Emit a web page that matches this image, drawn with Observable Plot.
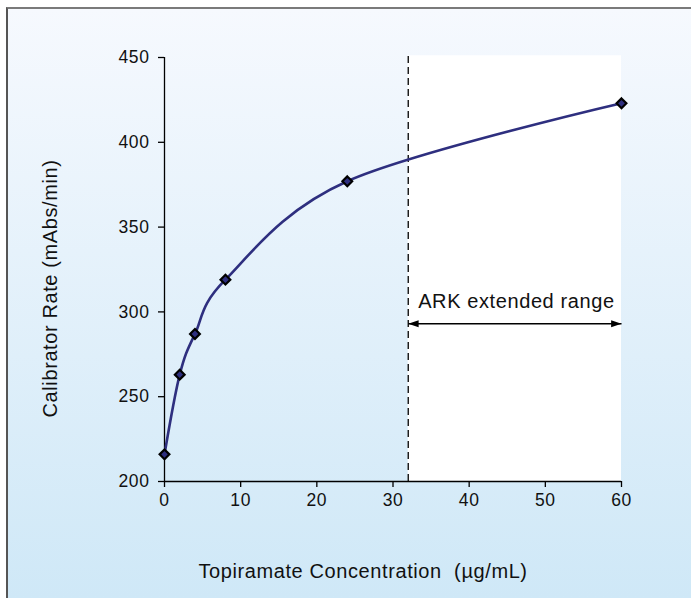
<!DOCTYPE html>
<html><head><meta charset="utf-8">
<script src="https://cdn.jsdelivr.net/npm/d3@7"></script>
<script src="https://cdn.jsdelivr.net/npm/@observablehq/plot@0.6"></script>
<style>
body{margin:0;background:#fff;}
#wrap{position:relative;width:691px;height:598px;overflow:hidden;}
#bg{position:absolute;left:6px;top:7px;right:0;bottom:0;border-top:2px solid #7a7a7a;border-left:2px solid #555;background:linear-gradient(#f6f9fe,#cfe8f7);}
#chart{position:absolute;left:0;top:0;}
</style></head><body>
<div id="wrap"><div id="bg"></div><div id="chart"></div></div>
<script>
const concentration = [0, 2, 4, 8, 24, 60];
const rate = [216, 263, 287, 319, 377, 423];
const xTicks = [0, 10, 20, 30, 40, 50, 60];
const yTicks = [200, 250, 300, 350, 400, 450];
const extendedStart = 32;
const extendedEnd = 60;
const extendedTop = 451;
const arrowRate = 293;
const rangeLabel = "ARK extended range";
const rangeLabelX = 46.2;
const rangeLabelRate = 306;
const xLabel = "Topiramate Concentration  (µg/mL)";
const yLabel = "Calibrator Rate (mAbs/min)";

const data = concentration.map((c, i) => ({c, r: rate[i]}));
const band = [{x1: extendedStart, x2: extendedEnd, y1: yTicks[0], y2: extendedTop}];
const arrow = [{x1: extendedStart, x2: extendedEnd, y: arrowRate}];
const heads = [{x: extendedStart, y: arrowRate, rot: -90}, {x: extendedEnd, y: arrowRate, rot: 90}];

// arrowhead symbol: tip at origin, pointing up
const arrowHead = {
  draw(ctx, size) {
    const L = Math.sqrt(size) * 1.3, w = Math.sqrt(size) * 0.45;
    ctx.moveTo(0, 0);
    ctx.lineTo(w, L);
    ctx.lineTo(-w, L);
    ctx.closePath();
  }
};

const navy = "#2e2f7f";
const font = "'Liberation Sans', Arial, sans-serif";
const tickStyle = {fontSize: 17.5, stroke: "black", strokeWidth: 1.3, fill: "#111"};
const chart = Plot.plot({
  width: 691, height: 598,
  marginLeft: 164, marginRight: 70, marginTop: 57, marginBottom: 117,
  style: {background: "transparent", fontFamily: font, fontSize: "17.5px", color: "#111", letterSpacing: "0.6px"},
  x: {domain: [0, 60]},
  y: {domain: [200, 450]},
  marks: [
    Plot.rect(band, {x1: "x1", x2: "x2", y1: "y1", y2: "y2", fill: "white"}),
    Plot.ruleX([extendedStart], {y1: yTicks[0], y2: extendedTop, stroke: "black", strokeWidth: 1.3, strokeDasharray: "7,4"}),
    Plot.axisX({ticks: xTicks, tickSize: 6, tickPadding: 6, label: null, ...tickStyle}),
    Plot.axisY({ticks: yTicks, tickSize: 6, tickPadding: 9, label: null, ...tickStyle}),
    Plot.ruleX([0], {y1: 200, y2: 450, stroke: "black", strokeWidth: 1.3}),
    Plot.ruleY([200], {x1: 0, x2: 60, stroke: "black", strokeWidth: 1.3}),
    Plot.line(data, {x: "c", y: "r", curve: "cardinal", stroke: navy, strokeWidth: 2.6}),
    Plot.dot(data, {x: "c", y: "r", symbol: "diamond2", r: 4.4, fill: navy, stroke: "black", strokeWidth: 2.2}),
    Plot.link(arrow, {x1: "x1", x2: "x2", y1: "y", y2: "y", stroke: "black", strokeWidth: 1.5}),
    Plot.dot(heads, {x: "x", y: "y", rotate: "rot", symbol: arrowHead, r: 4.5, fill: "black", stroke: "none"}),
    Plot.text([rangeLabel], {x: rangeLabelX, y: rangeLabelRate, fontSize: 20, fill: "#111"}),
    Plot.text([xLabel], {frameAnchor: "bottom", dy: 96, dx: -30, fontSize: 20, fill: "#111"}),
    Plot.text([yLabel], {frameAnchor: "left", textAnchor: "middle", rotate: -90, dx: -114, dy: 19, fontSize: 20, fill: "#111"})
  ]
});
document.getElementById("chart").appendChild(chart);
</script>
</body></html>
